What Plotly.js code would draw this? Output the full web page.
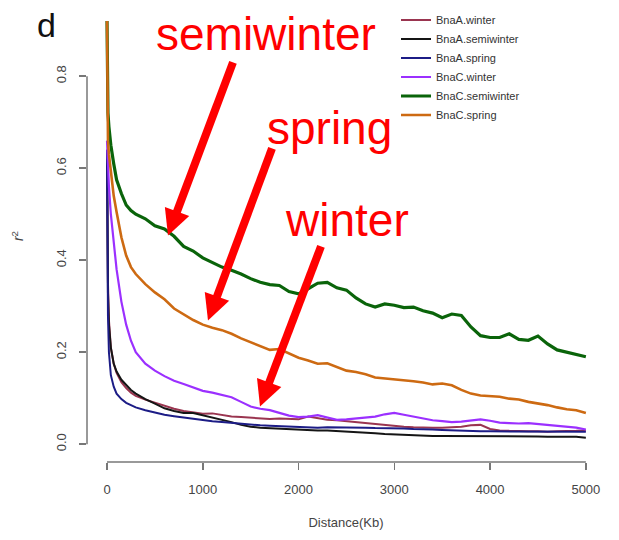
<!DOCTYPE html>
<html>
<head>
<meta charset="utf-8">
<script src="https://cdn.plot.ly/plotly-3.0.1.min.js"></script>
<style>html,body{margin:0;padding:0;background:#fff;}#chart{width:619px;height:540px;}</style>
</head>
<body>
<div id="chart"></div>
<script>
// Distance (Kb) grid
const distance = [0,5,10,20,40,70,100,150,200,250,300,400,
  500,600,700,800,900,1000,1100,1200,1300,1400,1500,1600,1700,1800,1900,2000,
  2100,2200,2300,2400,2500,2600,2700,2800,2900,3000,3100,3200,3300,3400,3500,
  3600,3700,3800,3900,4000,4100,4200,4300,4400,4500,4600,4700,4800,4900,5000];

const seriesNames = ["BnaA.winter","BnaA.semiwinter","BnaA.spring","BnaC.winter","BnaC.semiwinter","BnaC.spring"];

const bnaA_winter = [0.64,0.45,0.35,0.27,0.21,0.175,0.155,0.135,0.122,0.112,0.105,0.097,
  0.090,0.083,0.077,0.072,0.069,0.066,0.067,0.063,0.060,0.059,0.058,0.056,0.055,0.056,0.055,0.054,
  0.060,0.057,0.053,0.052,0.050,0.047,0.045,0.043,0.041,0.040,0.038,0.037,0.036,0.036,0.036,
  0.037,0.038,0.041,0.042,0.033,0.030,0.029,0.028,0.028,0.028,0.027,0.028,0.028,0.029,0.030];

const bnaA_semiwinter = [0.62,0.42,0.33,0.26,0.21,0.175,0.158,0.140,0.128,0.118,0.110,0.098,
  0.088,0.078,0.072,0.068,0.068,0.063,0.058,0.054,0.048,0.042,0.038,0.036,0.035,0.033,0.032,0.031,
  0.031,0.030,0.030,0.029,0.028,0.027,0.026,0.024,0.022,0.021,0.020,0.020,0.019,0.018,0.018,
  0.018,0.018,0.018,0.018,0.018,0.017,0.017,0.018,0.017,0.017,0.016,0.016,0.017,0.016,0.014];

const bnaA_spring = [0.64,0.40,0.28,0.20,0.15,0.125,0.110,0.098,0.090,0.085,0.080,0.074,
  0.069,0.064,0.061,0.058,0.056,0.053,0.050,0.048,0.046,0.044,0.042,0.041,0.040,0.039,0.038,0.037,
  0.037,0.036,0.037,0.037,0.036,0.036,0.036,0.035,0.035,0.034,0.034,0.033,0.033,0.032,0.031,
  0.030,0.030,0.029,0.028,0.028,0.028,0.027,0.027,0.027,0.027,0.027,0.027,0.027,0.027,0.027];

const bnaC_winter = [0.66,0.63,0.60,0.56,0.50,0.44,0.38,0.31,0.26,0.225,0.200,0.175,
  0.160,0.148,0.138,0.131,0.124,0.116,0.112,0.107,0.102,0.092,0.082,0.077,0.074,0.068,0.062,0.059,
  0.060,0.063,0.058,0.053,0.054,0.056,0.057,0.060,0.065,0.068,0.064,0.060,0.056,0.052,0.050,
  0.048,0.049,0.052,0.054,0.051,0.047,0.046,0.045,0.046,0.044,0.042,0.039,0.037,0.036,0.032];

const bnaC_semiwinter = [0.92,0.75,0.72,0.69,0.65,0.61,0.575,0.545,0.520,0.508,0.500,0.490,
  0.475,0.468,0.452,0.430,0.420,0.405,0.395,0.385,0.378,0.370,0.360,0.352,0.347,0.345,0.332,0.327,
  0.338,0.350,0.352,0.340,0.335,0.318,0.305,0.298,0.305,0.302,0.297,0.298,0.290,0.285,0.275,
  0.283,0.280,0.255,0.236,0.232,0.232,0.240,0.228,0.226,0.235,0.218,0.205,0.200,0.196,0.190];

const bnaC_spring = [0.92,0.69,0.66,0.63,0.59,0.54,0.505,0.450,0.410,0.385,0.370,0.348,
  0.330,0.315,0.295,0.282,0.270,0.260,0.253,0.248,0.240,0.230,0.222,0.214,0.205,0.207,0.198,0.188,
  0.182,0.175,0.176,0.168,0.160,0.157,0.152,0.145,0.143,0.142,0.140,0.137,0.134,0.130,0.132,
  0.128,0.118,0.110,0.106,0.105,0.103,0.099,0.097,0.092,0.089,0.085,0.080,0.076,0.074,0.068];

const xTicks = [0,1000,2000,3000,4000,5000];
const yTicks = [0,0.2,0.4,0.6,0.8];
const yTickText = ["0.0","0.2","0.4","0.6","0.8"];

const allSeries = [bnaA_winter,bnaA_semiwinter,bnaA_spring,bnaC_winter,bnaC_semiwinter,bnaC_spring];
const colors = ["#9a3550","#151515","#1c1c86","#9b30ff","#0a640a","#cd6a12"];
const widths = [2,2,2,2.2,3.2,2.6];

const traces = allSeries.map((s,i)=>({
  type:"scatter", mode:"lines", name:seriesNames[i],
  x:distance, y:s,
  line:{color:colors[i], width:widths[i]}
}));

// pixel -> paper helpers (plot area: left 87, right 605, top 5, bottom 462)
const PL=87, PW=518, PB=462, PH=457;
const px = v => (v-PL)/PW;
const py = v => (PB-v)/PH;

// red call-out arrows as shapes (tail pixel -> tip pixel)
function arrowShapes(tx,ty,hx,hy){
  const dx=hx-tx, dy=hy-ty, L=Math.hypot(dx,dy);
  const ux=dx/L, uy=dy/L, nx=-uy, ny=ux;
  const headLen=26, halfW=13;
  const bx=hx-ux*headLen, by=hy-uy*headLen;
  const p=(x,y)=>px(x).toFixed(5)+","+py(y).toFixed(5);
  return [
    {type:"line", xref:"paper", yref:"paper", x0:px(tx), y0:py(ty), x1:px(bx+ux*2), y1:py(by+uy*2), line:{color:"#ff0000", width:8}},
    {type:"path", xref:"paper", yref:"paper", path:"M"+p(hx,hy)+" L"+p(bx+nx*halfW,by+ny*halfW)+" L"+p(bx-nx*halfW,by-ny*halfW)+" Z",
      fillcolor:"#ff0000", line:{color:"#ff0000", width:0}}
  ];
}

const baseFont = "Liberation Sans, Arial, sans-serif";
const redFont = {family:baseFont, size:46, color:"#ff0000"};
const annotations = [
  {text:"semiwinter", xref:"paper", yref:"paper", x:px(266), y:py(29), showarrow:false, font:redFont, xanchor:"center", yanchor:"middle"},
  {text:"spring", xref:"paper", yref:"paper", x:px(329), y:py(124), showarrow:false, font:redFont, xanchor:"center", yanchor:"middle"},
  {text:"winter", xref:"paper", yref:"paper", x:px(347), y:py(217), showarrow:false, font:redFont, xanchor:"center", yanchor:"middle"},
  {text:"d", xref:"paper", yref:"paper", x:px(46), y:py(20), showarrow:false, font:{family:baseFont, size:34, color:"#111"}, xanchor:"center", yanchor:"middle"}
];

const shapes = [
  {type:"line", xref:"x", yref:"paper", x0:xTicks[0], x1:xTicks[xTicks.length-1], y0:0, y1:0, line:{color:"#777", width:1.5}},
  {type:"line", xref:"paper", yref:"y", x0:0, x1:0, y0:yTicks[0], y1:yTicks[yTicks.length-1], line:{color:"#777", width:1.5}}
].concat(arrowShapes(233,58,168,233), arrowShapes(272,145,208,319), arrowShapes(321,244,260,406));

const layout = {
  width:619, height:540,
  margin:{l:PL, r:619-PL-PW, t:5, b:540-PB},
  paper_bgcolor:"#fff", plot_bgcolor:"#fff",
  font:{family:baseFont, size:12, color:"#444"},
  showlegend:true,
  legend:{x:px(396), y:1.01, xanchor:"left", yanchor:"top", bgcolor:"rgba(0,0,0,0)", borderwidth:0,
    font:{size:11, color:"#333"}, tracegroupgap:0, itemwidth:30},
  xaxis:{range:[-209,5200], tickvals:xTicks, ticktext:xTicks.map(String), ticks:"outside", ticklen:7, tickwidth:1.5, tickcolor:"#777",
    showgrid:false, zeroline:false, showline:false, tickfont:{size:13, color:"#444"}, ticklabelstandoff:8,
    title:{text:"Distance(Kb)", font:{size:13, color:"#444"}, standoff:22}},
  yaxis:{range:[-0.0387,0.944], tickvals:yTicks, ticktext:yTickText, ticks:"outside", ticklen:7, tickwidth:1.5, tickcolor:"#777",
    showgrid:false, zeroline:false, showline:false, tickangle:-90, tickfont:{size:13, color:"#444"}, ticklabelstandoff:8,
    title:{text:"<i>r</i><sup>2</sup>", font:{size:14, color:"#444"}, standoff:26}},
  shapes:shapes,
  annotations:annotations
};

Plotly.newPlot("chart", traces, layout, {displayModeBar:false, staticPlot:true});
</script>
</body>
</html>
